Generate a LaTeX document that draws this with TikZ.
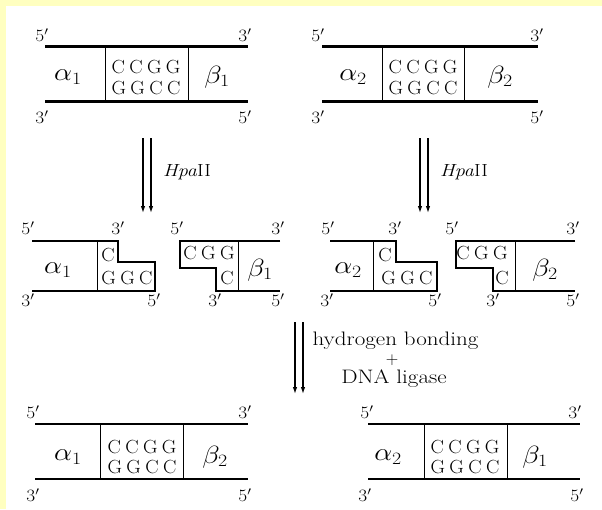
\documentclass[tikz,border=0pt]{standalone}
\usetikzlibrary{arrows.meta}
\definecolor{bgyellow}{RGB}{255,255,192}
\newcommand{\gp}{\hspace{0.22em}}
\begin{document}
\begin{tikzpicture}[x=1pt,y=-1pt,
  strand/.style={line width=2.6pt},
  thinline/.style={line width=1pt},
  lbl/.style={inner sep=0pt,xscale=1.12,font=\fontsize{16.5}{19}\selectfont},
  seq/.style={inner sep=0pt,xscale=1.05,font=\fontsize{19}{21}\selectfont},
  grk/.style={inner sep=0pt,xscale=1.15,font=\fontsize{26}{30}\selectfont},
  enz/.style={inner sep=0pt,xscale=1.15,font=\fontsize{17.5}{20}\selectfont},
  big/.style={inner sep=0pt,xscale=1.18,font=\fontsize{19.5}{22}\selectfont},
  arr/.style={line width=1.2pt,-{Latex[length=7pt,width=4.5pt]}}]
\useasboundingbox (0,0) rectangle (602,509);
\fill[bgyellow] (0,0) rectangle (602,509);
\fill[white] (6,6) rectangle (602,509);

% ---------- top left molecule
\draw[strand] (45,46.7) -- (248,46.7);
\draw[strand] (45,101.7) -- (248,101.7);
\draw[thinline] (105.7,46.7) -- (105.7,101.7);
\draw[thinline] (188.3,46.7) -- (188.3,101.7);
\node[lbl] (tl5a) at (42,35) {$5'$};
\node[lbl] (tl3a) at (245,35) {$3'$};
\node[lbl] (tl3b) at (42,117) {$3'$};
\node[lbl] (tl5b) at (245,117) {$5'$};
\node[grk] (tlal) at (68,77) {$\alpha_1$};
\node[grk] (tlbe) at (217,77) {$\beta_1$};
\node[seq] (tlup) at (146,67) {C\gp C\gp G\gp G};
\node[seq] (tllo) at (146,88) {G\gp G\gp C\gp C};

% ---------- top right molecule
\draw[strand] (322,46.7) -- (538,46.7);
\draw[strand] (322,101.7) -- (538,101.7);
\draw[thinline] (382,46.7) -- (382,101.7);
\draw[thinline] (464,46.7) -- (464,101.7);
\node[lbl] (tr5a) at (318,35) {$5'$};
\node[lbl] (tr3a) at (537,35) {$3'$};
\node[lbl] (tr3b) at (318,117) {$3'$};
\node[lbl] (tr5b) at (537,117) {$5'$};
\node[grk] (tral) at (353,77) {$\alpha_2$};
\node[grk] (trbe) at (500,77) {$\beta_2$};
\node[seq] (trup) at (423,67) {C\gp C\gp G\gp G};
\node[seq] (trlo) at (423,88) {G\gp G\gp C\gp C};

% ---------- HpaII arrows
\coordinate (la1) at (143,138); \coordinate (la1e) at (143,213);
\coordinate (la2) at (151,138); \coordinate (la2e) at (151,213);
\draw[arr] (la1) -- (la1e);
\draw[arr] (la2) -- (la2e);
\node[enz] (lhpa) at (187,172) {\textit{Hpa}II};
\coordinate (ra1) at (420,138); \coordinate (ra1e) at (420,213);
\coordinate (ra2) at (428,138); \coordinate (ra2e) at (428,213);
\draw[arr] (ra1) -- (ra1e);
\draw[arr] (ra2) -- (ra2e);
\node[enz] (rhpa) at (464,172) {\textit{Hpa}II};

% ---------- middle: alpha1 fragment
\draw[strand] (32,241) -- (118,241) -- (118,262) -- (155,262) -- (155,291) -- (32,291);
\draw[thinline] (97,241) -- (97,291);
\node[lbl] (m1a) at (28,228) {$5'$};
\node[lbl] (m1b) at (118,228) {$3'$};
\node[lbl] (m1c) at (28,300) {$3'$};
\node[lbl] (m1d) at (154,300) {$5'$};
\node[grk] (m1al) at (58,270) {$\alpha_1$};
\node[seq] (m1c1) at (108,255) {C};
\node[seq] (m1c2) at (127,278) {G\gp G\gp C};

% ---------- middle: beta1 fragment
\draw[strand] (280,241) -- (180,241) -- (180,268) -- (216,268) -- (216,291) -- (280,291);
\draw[thinline] (238,241) -- (238,291);
\node[lbl] (m2a) at (177,228) {$5'$};
\node[lbl] (m2b) at (278,228) {$3'$};
\node[lbl] (m2c) at (215,300) {$3'$};
\node[lbl] (m2d) at (278,300) {$5'$};
\node[grk] (m2be) at (260,270) {$\beta_1$};
\node[seq] (m2c1) at (209,253) {C\gp G\gp G};
\node[seq] (m2c2) at (227,278) {C};

% ---------- middle: alpha2 fragment
\draw[strand] (330,241) -- (396,241) -- (396,262) -- (437,262) -- (437,291) -- (330,291);
\draw[thinline] (373,241) -- (373,291);
\node[lbl] (m3a) at (328,228) {$5'$};
\node[lbl] (m3b) at (395,228) {$3'$};
\node[lbl] (m3c) at (327,300) {$3'$};
\node[lbl] (m3d) at (435,300) {$5'$};
\node[grk] (m3al) at (348,270) {$\alpha_2$};
\node[seq] (m3c1) at (385,255) {C};
\node[seq] (m3c2) at (407,278) {G\gp G\gp C};

% ---------- middle: beta2 fragment
\draw[strand] (575,241) -- (456,241) -- (456,268) -- (493,268) -- (493,291) -- (575,291);
\draw[thinline] (515,241) -- (515,291);
\node[lbl] (m4a) at (452,228) {$5'$};
\node[lbl] (m4b) at (573,228) {$3'$};
\node[lbl] (m4c) at (493,300) {$3'$};
\node[lbl] (m4d) at (573,300) {$5'$};
\node[grk] (m4be) at (545,270) {$\beta_2$};
\node[seq] (m4c1) at (482,253) {C\gp G\gp G};
\node[seq] (m4c2) at (502,278) {C};

% ---------- middle arrows
\coordinate (ma1) at (295,322); \coordinate (ma1e) at (295,394);
\coordinate (ma2) at (303,322); \coordinate (ma2e) at (303,394);
\draw[arr] (ma1) -- (ma1e);
\draw[arr] (ma2) -- (ma2e);
\node[big] (hb) at (395.5,341) {hydrogen bonding};
\node[inner sep=0pt,font=\fontsize{18}{20}\selectfont] (pl) at (392,360) {$+$};
\node[big] (lig) at (394,379) {DNA ligase};

% ---------- bottom left molecule
\draw[strand] (35,424) -- (248,424);
\draw[strand] (35,479) -- (248,479);
\draw[thinline] (100,424) -- (100,479);
\draw[thinline] (183,424) -- (183,479);
\node[lbl] (bl5a) at (33,412) {$5'$};
\node[lbl] (bl3a) at (245,412) {$3'$};
\node[lbl] (bl3b) at (33,495) {$3'$};
\node[lbl] (bl5b) at (245,495) {$5'$};
\node[grk] (blal) at (68,457) {$\alpha_1$};
\node[grk] (blbe) at (215,457) {$\beta_2$};
\node[seq] (blup) at (142,447) {C\gp C\gp G\gp G};
\node[seq] (bllo) at (142,467) {G\gp G\gp C\gp C};

% ---------- bottom right molecule
\draw[strand] (368,424) -- (580,424);
\draw[strand] (368,479) -- (580,479);
\draw[thinline] (424,424) -- (424,479);
\draw[thinline] (507,424) -- (507,479);
\node[lbl] (br5a) at (367,412) {$5'$};
\node[lbl] (br3a) at (575,412) {$3'$};
\node[lbl] (br3b) at (365,495) {$3'$};
\node[lbl] (br5b) at (577,495) {$5'$};
\node[grk] (bral) at (388,457) {$\alpha_2$};
\node[grk] (brbe) at (535,457) {$\beta_1$};
\node[seq] (brup) at (465,447) {C\gp C\gp G\gp G};
\node[seq] (brlo) at (465,467) {G\gp G\gp C\gp C};
\end{tikzpicture}
\end{document}
